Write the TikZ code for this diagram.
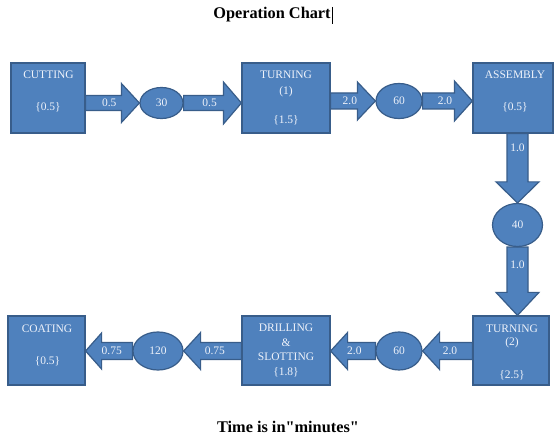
\documentclass[tikz,border=0pt]{standalone}
\usepackage{fontspec}
\setmainfont{Liberation Serif}[Ligatures=TeXOff]
\usetikzlibrary{calc,shapes.geometric,backgrounds}

\definecolor{boxfill}{HTML}{4F81BD}
\definecolor{boxline}{HTML}{385D8A}
\definecolor{boxtext}{HTML}{EEF2FA}

\tikzset{
  stage/.style={draw=boxline, fill=boxfill, line width=1.2pt, rectangle, inner sep=0pt},
  queue/.style={draw=boxline, fill=boxfill, line width=1.2pt, ellipse, inner sep=0pt,
                text=boxtext, font=\fontsize{11.5}{13}\selectfont},
  txt/.style={text=boxtext, font=\fontsize{11.5}{13}\selectfont, inner sep=0pt},
  blk/.style={draw=boxline, fill=boxfill, line width=1.2pt, line join=miter},
  heading/.style={font=\bfseries\fontsize{16.3}{19}\selectfont, inner sep=0pt},
}

% block arrow: tail, tip, head length, head half width, shaft half width,
% label, label position (fraction tail->tip), label node name
\newcommand\blockarrow[8]{%
  \coordinate (hb) at ($(#2)!#3!(#1)$);
  \draw[blk] ($(#1)!#5!90:(#2)$) -- ($(hb)!#5!-90:(#1)$) -- ($(hb)!#4!-90:(#1)$)
    -- (#2) -- ($(hb)!#4!90:(#1)$) -- ($(hb)!#5!90:(#1)$) -- ($(#1)!#5!-90:(#2)$) -- cycle;
  \node[txt] (#8) at ($(#1)!#7!(#2)$) {#6};
}

\begin{document}
\begin{tikzpicture}[x=1pt,y=-1pt]
\useasboundingbox (0,0) rectangle (555,438);

% headings
\node[heading] (title) at (272,15) {Operation Chart};
\draw[line width=1pt] (332,7) -- (332,24);
\node[heading] (note) at (288,427) {Time is in"minutes"};

% process stages
\node[stage, minimum width=74pt, minimum height=70pt] (cut)   at (48,98) {};
\node[stage, minimum width=88pt, minimum height=70pt] (turn1) at (286,98) {};
\node[stage, minimum width=80pt, minimum height=70pt] (asm)   at (513,98) {};
\node[stage, minimum width=76pt, minimum height=69pt] (turn2) at (511,350.5) {};
\node[stage, minimum width=88pt, minimum height=69pt] (drill) at (286,350.5) {};
\node[stage, minimum width=77pt, minimum height=69pt] (coat)  at (46.5,350.5) {};

% stage texts
\node[txt] (cutA) at (48.5,75) {CUTTING};
\node[txt] (cutB) at (48,107) {\{0.5\}};
\node[txt] (t1A) at (286,75) {TURNING};
\node[txt] (t1B) at (286,92) {(1)};
\node[txt] (t1C) at (286,120) {\{1.5\}};
\node[txt] (asA) at (515,75) {ASSEMBLY};
\node[txt] (asB) at (515,107) {\{0.5\}};
\node[txt] (t2A) at (512,329) {TURNING};
\node[txt] (t2B) at (512,343) {(2)};
\node[txt] (t2C) at (512,375) {\{2.5\}};
\node[txt] (drA) at (286,328) {DRILLING};
\node[txt] (drB) at (286,343) {\&};
\node[txt] (drC) at (286,357) {SLOTTING};
\node[txt] (drD) at (286,372) {\{1.8\}};
\node[txt] (coA) at (47,329) {COATING};
\node[txt] (coB) at (47.5,361) {\{0.5\}};

% waiting queues
\node[queue, minimum width=43pt, minimum height=31pt] (q30)  at (161.5,103) {30};
\node[queue, minimum width=46pt, minimum height=35pt] (q60a) at (399,101) {60};
\node[queue, minimum width=50pt, minimum height=43pt] (q40)  at (517.5,225) {40};
\node[queue, minimum width=46pt, minimum height=38pt] (q60b) at (399,351) {60};
\node[queue, minimum width=50pt, minimum height=38pt] (q120) at (158,351) {120};

% anchor points for the flow arrows
\coordinate (a1t) at (cut.east |- q30);
\coordinate (a2h) at (turn1.west |- q30);
\coordinate (a3t) at (turn1.east |- q60a);
\coordinate (a4h) at (asm.west |- q60a);
\coordinate (a5t) at (asm.south -| q40);
\coordinate (a6h) at (turn2.north -| q40);
\coordinate (a7t) at (turn2.west |- q60b);
\coordinate (a8h) at (drill.east |- q60b);
\coordinate (a9t) at (drill.west |- q120);
\coordinate (a10h) at (coat.east |- q120);

\begin{pgfonlayer}{background}
  \fill[white] (0,0) rectangle (555,438);
  \blockarrow{a1t}{q30.west}{18pt}{19.5pt}{7.5pt}{0.5}{0.44}{l1}
  \blockarrow{q30.east}{a2h}{18pt}{21pt}{7.5pt}{0.5}{0.45}{l2}
  \blockarrow{a3t}{q60a.west}{18pt}{19pt}{8pt}{2.0}{0.43}{l3}
  \blockarrow{q60a.east}{a4h}{18pt}{20pt}{8pt}{2.0}{0.45}{l4}
  \blockarrow{a5t}{q40.north}{21pt}{21.5pt}{10.5pt}{1.0}{0.21}{l5}
  \blockarrow{q40.south}{a6h}{23pt}{21.5pt}{10.5pt}{1.0}{0.26}{l6}
  \blockarrow{a7t}{q60b.east}{17pt}{18.5pt}{8.5pt}{2.0}{0.45}{l7}
  \blockarrow{q60b.west}{a8h}{17pt}{18.5pt}{8.5pt}{2.0}{0.47}{l8}
  \blockarrow{a9t}{q120.east}{17pt}{18.5pt}{8.5pt}{0.75}{0.46}{l9}
  \blockarrow{q120.west}{a10h}{16pt}{18pt}{8.5pt}{0.75}{0.44}{l10}
\end{pgfonlayer}
\end{tikzpicture}
\end{document}
